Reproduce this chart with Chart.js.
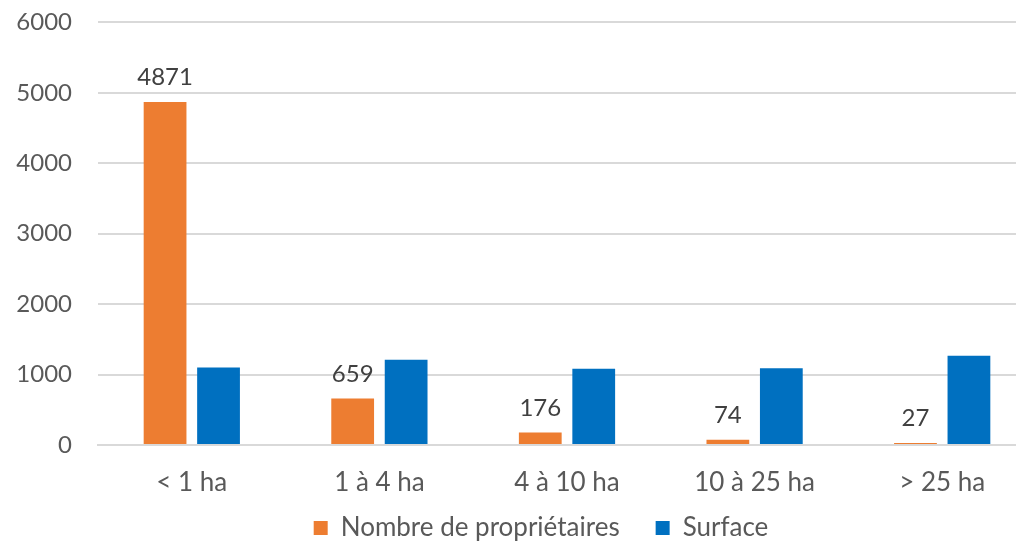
<!DOCTYPE html>
<html lang="fr">
<head>
    <meta charset="UTF-8">
    <title>Propriétaires et surface par classe</title>
    <script src="https://cdn.jsdelivr.net/npm/chart.js"></script>
    <style>
        html, body {
            margin: 0;
            padding: 0;
            background: #ffffff;
            overflow: hidden;
        }

        #wrap {
            position: absolute;
            left: 0;
            top: -18px;
            width: 1040px;
            height: 571px;
        }
    </style>
</head>
<body>
    <div id="wrap">
        <canvas id="chart"></canvas>
    </div>

    <script>
        const categories = ['< 1 ha', '1 à 4 ha', '4 à 10 ha', '10 à 25 ha', '> 25 ha'];
        const proprietaires = [4871, 659, 176, 74, 27];
        const surface = [1100, 1209, 1082, 1090, 1266];
        const yTicks = [0, 1000, 2000, 3000, 4000, 5000, 6000];

        const FONT = 'Lato, "Open Sans", sans-serif';
        // extra blank space after each legend entry (Excel spaces them wider)
        const legendGap = ['\u2002\u2002', '\u2002\u2002\u2002\u2002'];

        // labels above the orange bars, placed from the bar elements
        const barLabels = {
            id: 'barLabels',
            afterDatasetsDraw(chart) {
                const ctx = chart.ctx;
                const meta = chart.getDatasetMeta(0);
                ctx.save();
                ctx.font = '24px ' + FONT;
                ctx.fillStyle = '#404040';
                ctx.textAlign = 'center';
                ctx.textBaseline = 'alphabetic';
                meta.data.forEach((bar, i) => {
                    ctx.fillText(String(proprietaires[i]), bar.x, bar.y - 17);
                });
                ctx.restore();
            }
        };

        const ctx = document.getElementById('chart').getContext('2d');
        const chart = new Chart(ctx, {
            type: 'bar',
            data: {
                labels: categories,
                datasets: [
                    {
                        label: 'Nombre de propriétaires',
                        data: proprietaires,
                        backgroundColor: '#ED7D31',
                        barPercentage: 0.8,
                        categoryPercentage: 0.57
                    },
                    {
                        label: 'Surface',
                        data: surface,
                        backgroundColor: '#0070C0',
                        barPercentage: 0.8,
                        categoryPercentage: 0.57
                    }
                ]
            },
            options: {
                responsive: true,
                maintainAspectRatio: false,
                animation: false,
                layout: {
                    padding: { left: 12, right: 4, top: 10, bottom: 2 }
                },
                plugins: {
                    legend: {
                        position: 'bottom',
                        fullSize: false,
                        labels: {
                            color: '#595959',
                            font: { family: FONT, size: 26 },
                            boxWidth: 14,
                            boxHeight: 14,
                            padding: 10,
                            generateLabels: (chart) => {
                                const items = Chart.defaults.plugins.legend.labels.generateLabels(chart);
                                items.forEach((item, i) => {
                                    item.text = item.text + legendGap[i];
                                    item.lineWidth = 0;
                                });
                                return items;
                            }
                        }
                    },
                    tooltip: { enabled: false }
                },
                scales: {
                    x: {
                        grid: { display: false, drawTicks: false },
                        border: { color: '#d9d9d9', width: 2 },
                        afterFit: (scale) => {
                            scale.height = 60;
                        },
                        ticks: {
                            color: '#595959',
                            font: { family: FONT, size: 26 },
                            padding: 22
                        }
                    },
                    y: {
                        min: 0,
                        max: 6000,
                        afterBuildTicks: (scale) => {
                            scale.ticks = yTicks.map(v => ({ value: v }));
                        },
                        afterFit: (scale) => {
                            scale.width = 86;
                        },
                        grid: { color: '#d9d9d9', lineWidth: 2, drawTicks: false },
                        border: { display: false },
                        ticks: {
                            color: '#595959',
                            font: { family: FONT, size: 24 },
                            padding: 26,
                            callback: (v) => String(v)
                        }
                    }
                }
            },
            plugins: [barLabels]
        });
    </script>
</body>
</html>
